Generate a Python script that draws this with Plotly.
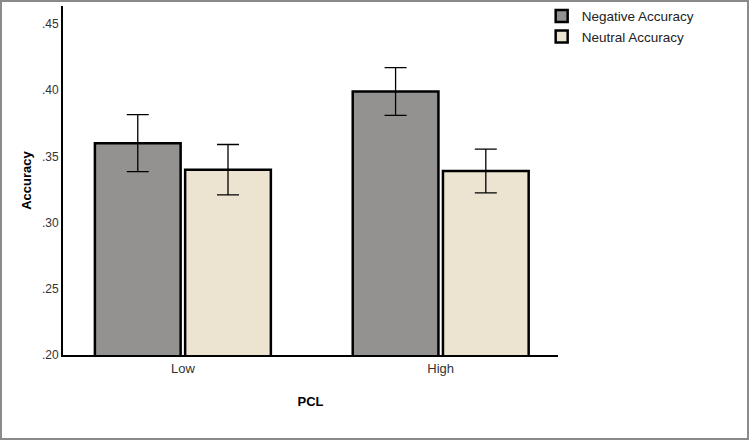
import plotly.graph_objects as go

categories = ["Low", "High"]
negative_acc = [0.360, 0.399]
negative_err = [0.0215, 0.018]
neutral_acc = [0.340, 0.339]
neutral_err = [0.019, 0.0165]
tick_vals = [0.20, 0.25, 0.30, 0.35, 0.40, 0.45]
tick_text = [".20", ".25", ".30", ".35", ".40", ".45"]

fig = go.Figure()
fig.add_trace(go.Bar(
    name="Negative Accuracy", x=categories, y=negative_acc,
    marker=dict(color="#949191", line=dict(color="black", width=2.5)),
    error_y=dict(type="data", array=negative_err, color="black", thickness=1.3, width=11),
))
fig.add_trace(go.Bar(
    name="Neutral Accuracy", x=categories, y=neutral_acc,
    marker=dict(color="#ECE4D0", line=dict(color="black", width=2.5)),
    error_y=dict(type="data", array=neutral_err, color="black", thickness=1.3, width=11),
))

fig.update_layout(
    width=750, height=441,
    margin=dict(l=63, r=192, t=6, b=86, autoexpand=False),
    paper_bgcolor="white", plot_bgcolor="white",
    font=dict(family="Liberation Sans, Arial, sans-serif", color="#222", size=12),
    barmode="group", bargap=0.3, bargroupgap=0.05,
    showlegend=True,
    legend=dict(x=0.967, y=1.015, xanchor="left", yanchor="top",
                font=dict(size=13.5, color="#222"), bgcolor="rgba(0,0,0,0)",
                tracegroupgap=0, itemwidth=30),
    xaxis=dict(range=[-0.465, 1.455], showline=True, linecolor="black", linewidth=2,
               ticks="", showgrid=False, zeroline=False,
               title=dict(text="<b>PCL</b>", font=dict(size=13, color="black"), standoff=22),
               tickfont=dict(size=13, color="#333")),
    yaxis=dict(range=[0.20, 0.4636], showline=True, linecolor="black", linewidth=2,
               ticks="", showgrid=False, zeroline=False,
               tickvals=tick_vals, ticktext=tick_text,
               tickfont=dict(size=12, color="#333"),
               title=dict(text="<b>Accuracy</b>", font=dict(size=13, color="black"), standoff=7)),
    shapes=[dict(type="rect", xref="paper", yref="paper",
                 x0=-0.1253, x1=1.3838, y0=-0.2407, y1=1.0143,
                 line=dict(color="#8a8a8a", width=2), fillcolor="rgba(0,0,0,0)", layer="below")],
)

fig.write_html("out.html", config={"displayModeBar": False},
               post_script="document.body.style.margin='0';")
